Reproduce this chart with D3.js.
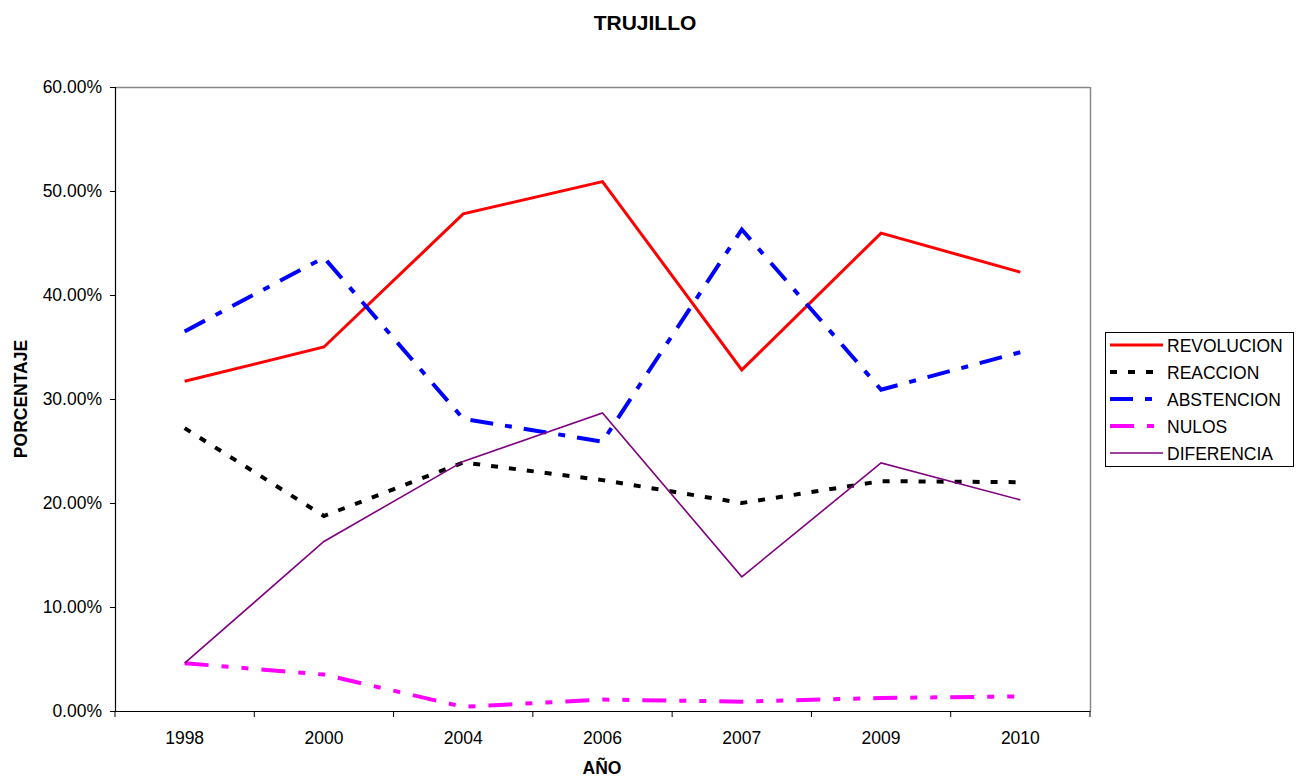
<!DOCTYPE html>
<html><head><meta charset="utf-8">
<script src="https://cdn.jsdelivr.net/npm/d3@7"></script>
<style>body{margin:0;background:#fff}svg{display:block}text{font-family:Arial,"Liberation Sans",sans-serif}</style>
</head><body><svg id="c" width="1303" height="777"></svg>
<script>
const years = ["1998","2000","2004","2006","2007","2009","2010"];
const revolucion = [31.7, 35.0, 47.8, 50.9, 32.8, 45.95, 42.2];
const reaccion   = [27.2, 18.75, 23.9, 22.2, 20.0, 22.1, 22.0];
const abstencion = [36.5, 43.6, 28.1, 25.9, 46.3, 30.9, 34.5];
const nulos      = [4.6, 3.5, 0.4, 1.1, 0.9, 1.25, 1.4];
const diferencia = [4.6, 16.3, 24.0, 28.65, 12.9, 23.85, 20.3];
const yTicks = [0,10,20,30,40,50,60];

const series = [
  {name:"REVOLUCION", values:revolucion, color:"#ff0000", w:3, dash:null},
  {name:"REACCION", values:reaccion, color:"#000000", w:4, dash:"7,11"},
  {name:"ABSTENCION", values:abstencion, color:"#0000ff", w:4, dash:"23,12,7,12"},
  {name:"NULOS", values:nulos, color:"#ff00ff", w:4, dash:"24,13,7,13,7,13"},
  {name:"DIFERENCIA", values:diferencia, color:"#800080", w:1.6, dash:null}
];

const svg = d3.select("#c");
const L=115, R=1090, T=87, B=711;
const FS = 17.5;
const x = d3.scaleBand().domain(years).range([L,R]);
const y = d3.scaleLinear().domain([0,60]).range([B,T]);

// plot border
svg.append("line").attr("x1",L).attr("x2",R).attr("y1",T+0.5).attr("y2",T+0.5).attr("stroke","#888").attr("stroke-width",1.5);
svg.append("line").attr("x1",R+0.5).attr("x2",R+0.5).attr("y1",T).attr("y2",B).attr("stroke","#888").attr("stroke-width",1.5);

// axes
const ya = svg.append("g").attr("transform",`translate(${L},0)`)
  .call(d3.axisLeft(y).tickValues(yTicks).tickSize(5).tickPadding(8).tickFormat(d=>d.toFixed(2)+"%"));
const xa = svg.append("g").attr("transform",`translate(0,${B})`)
  .call(d3.axisBottom(x).tickSize(0).tickPadding(21));
[ya,xa].forEach(g=>{g.select(".domain").attr("stroke","#000").attr("stroke-width",1.2);
  g.selectAll("text").attr("font-size",FS).attr("fill","#000").style("font-family","Arial, 'Liberation Sans', sans-serif");
  g.selectAll(".tick line").attr("stroke","#000");});
// x band-edge ticks
const edges = years.map(d=>x(d)).concat([R]);
svg.append("g").selectAll("line").data(edges).join("line")
  .attr("x1",d=>d).attr("x2",d=>d).attr("y1",B).attr("y2",B+6).attr("stroke","#000");

// lines
const line = d3.line().x((d,i)=>x(years[i])+x.bandwidth()/2).y(d=>y(d));
series.forEach(s=>{
  svg.append("path").datum(s.values).attr("d",line).attr("fill","none")
    .attr("stroke",s.color).attr("stroke-width",s.w).attr("stroke-dasharray",s.dash);
});

// titles
svg.append("text").attr("x",645).attr("y",30).attr("text-anchor","middle").attr("font-size",21).attr("font-weight","bold").text("TRUJILLO");
svg.append("text").attr("x",602).attr("y",774).attr("text-anchor","middle").attr("font-size",FS).attr("font-weight","bold").text("AÑO");
svg.append("text").attr("transform","translate(27,399) rotate(-90)").attr("text-anchor","middle").attr("font-size",FS).attr("font-weight","bold").text("PORCENTAJE");

// legend
const lg = svg.append("g");
lg.append("rect").attr("x",1105.5).attr("y",332.5).attr("width",188).attr("height",134).attr("fill","#fff").attr("stroke","#000").attr("stroke-width",1);
series.forEach((s,i)=>{
  const yy = 345 + i*27;
  lg.append("line").attr("x1",1110).attr("x2",1163).attr("y1",yy).attr("y2",yy)
    .attr("stroke",s.color).attr("stroke-width",s.w).attr("stroke-dasharray",s.dash);
  lg.append("text").attr("x",1167).attr("y",yy+6.5).attr("font-size",FS).text(s.name);
});
</script></body></html>
